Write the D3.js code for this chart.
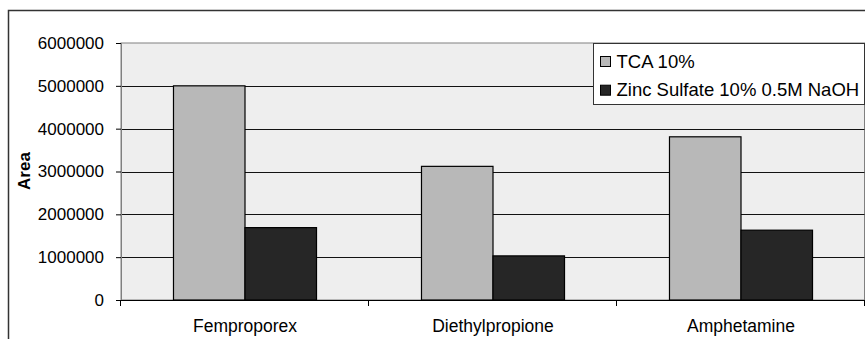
<!DOCTYPE html>
<html>
<head>
<meta charset="utf-8">
<script src="https://cdn.jsdelivr.net/npm/d3@7"></script>
<style>
  body { margin: 0; background: #fff; }
  svg { display: block; font-family: "Liberation Sans", Arial, sans-serif; }
</style>
</head>
<body>
<svg id="chart" width="865" height="339"></svg>
<script>
// chart data
const categories = ['Femproporex', 'Diethylpropione', 'Amphetamine']
const seriesNames = ['TCA 10%', 'Zinc Sulfate 10% 0.5M NaOH']
const tcaValues = [5000000, 3120000, 3810000]
const zincValues = [1690000, 1030000, 1630000]
const yTicks = [0, 1000000, 2000000, 3000000, 4000000, 5000000, 6000000]
const colors = ['#b8b8b8', '#262626']

const svg = d3.select('#chart')
const plotLeft = 121, plotRight = 864.5, plotTop = 43, plotBottom = 300

// outer chart frame (runs off the right/bottom of the picture)
svg.append('rect')
  .attr('x', 8.5).attr('y', 10.5)
  .attr('width', 900).attr('height', 400)
  .attr('fill', '#fff').attr('stroke', '#333').attr('stroke-width', 1.5)

const yScale = d3.scaleLinear()
  .domain([0, 6000000])
  .range([plotBottom, plotTop])

const x0 = d3.scaleBand()
  .domain(categories)
  .range([plotLeft, plotLeft + 248 * 3])
  .padding(0)

const x1 = d3.scaleBand()
  .domain(seriesNames)
  .range([0, x0.bandwidth()])
  .paddingInner(0)
  .paddingOuter(0.734)

// plot background
svg.append('rect')
  .attr('x', plotLeft).attr('y', plotTop)
  .attr('width', plotRight - plotLeft).attr('height', plotBottom - plotTop)
  .attr('fill', '#eeeeee').attr('stroke', '#808080').attr('stroke-width', 1)

// gridlines
svg.append('g')
  .selectAll('line')
  .data(yTicks.filter(d => d > 0 && d < 6000000))
  .join('line')
  .attr('x1', plotLeft).attr('x2', plotRight)
  .attr('y1', d => Math.round(yScale(d)) + 0.5)
  .attr('y2', d => Math.round(yScale(d)) + 0.5)
  .attr('stroke', '#111').attr('stroke-width', 1)

// bars
const rows = categories.map((c, i) => ({ cat: c, values: [tcaValues[i], zincValues[i]] }))
svg.append('g')
  .selectAll('g')
  .data(rows)
  .join('g')
  .attr('transform', d => `translate(${x0(d.cat)},0)`)
  .selectAll('rect')
  .data(d => d.values.map((v, j) => ({ name: seriesNames[j], value: v, j: j })))
  .join('rect')
  .attr('x', d => x1(d.name))
  .attr('y', d => yScale(d.value))
  .attr('width', x1.bandwidth())
  .attr('height', d => plotBottom - yScale(d.value))
  .attr('fill', d => colors[d.j])
  .attr('stroke', '#000').attr('stroke-width', 1.2)

// y axis
const yAxis = d3.axisLeft(yScale)
  .tickValues(yTicks)
  .tickSize(5)
  .tickPadding(12)
  .tickFormat(d3.format('d'))
svg.append('g')
  .attr('transform', `translate(${plotLeft},0)`)
  .call(yAxis)
  .call(g => g.select('.domain').attr('stroke', '#808080'))
  .call(g => g.selectAll('.tick line').attr('stroke', '#000'))
  .call(g => g.selectAll('text')
    .attr('font-size', 17)
    .attr('font-family', '"Liberation Sans", Arial, sans-serif')
    .attr('fill', '#000'))

// x axis line + boundary ticks
svg.append('line')
  .attr('x1', plotLeft).attr('x2', plotRight + 1)
  .attr('y1', plotBottom + 0.5).attr('y2', plotBottom + 0.5)
  .attr('stroke', '#000')
const bounds = categories.map(c => x0(c)).concat([x0.range()[1]])
svg.append('g')
  .selectAll('line')
  .data(bounds)
  .join('line')
  .attr('x1', d => Math.round(d) - 0.5).attr('x2', d => Math.round(d) - 0.5)
  .attr('y1', plotBottom).attr('y2', plotBottom + 6)
  .attr('stroke', '#000')

// category labels
svg.append('g')
  .selectAll('text')
  .data(categories)
  .join('text')
  .attr('x', d => x0(d) + x0.bandwidth() / 2)
  .attr('y', 332)
  .attr('text-anchor', 'middle')
  .attr('font-size', 17.5)
  .text(d => d)

// y axis title
svg.append('text')
  .attr('transform', 'translate(30,171) rotate(-90)')
  .attr('text-anchor', 'middle')
  .attr('font-size', 17)
  .attr('font-weight', 'bold')
  .text('Area')

// legend
const legend = svg.append('g')
legend.append('rect')
  .attr('x', 593.5).attr('y', 43.5)
  .attr('width', 271).attr('height', 61)
  .attr('fill', '#fff').attr('stroke', '#333').attr('stroke-width', 1)
const legendItems = legend.selectAll('g')
  .data(seriesNames)
  .join('g')
  .attr('transform', (d, i) => `translate(600,${61 + i * 28.7})`)
legendItems.append('rect')
  .attr('x', 0.5).attr('y', -4.5)
  .attr('width', 10).attr('height', 10)
  .attr('fill', (d, i) => colors[i])
  .attr('stroke', '#000').attr('stroke-width', 1)
legendItems.append('text')
  .attr('x', 16.5)
  .attr('y', 6.5)
  .attr('font-size', 18.5)
  .text(d => d)
</script>
</body>
</html>
